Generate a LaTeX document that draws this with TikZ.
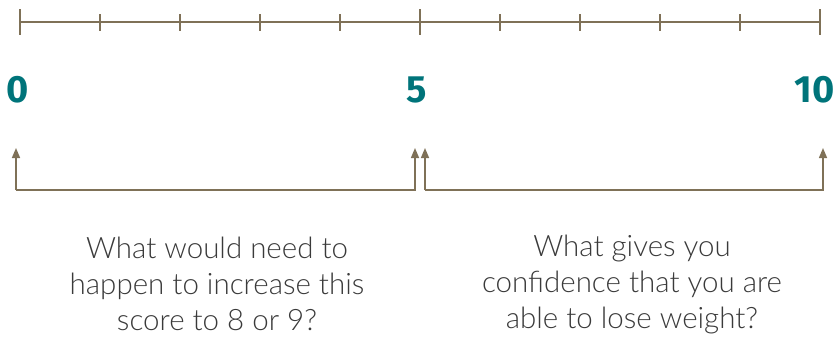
\documentclass[tikz,border=0pt]{standalone}
\usepackage{fontspec}
\setmainfont{Lato}
\newfontfamily\numfont{Fira Sans}
\newfontfamily\txtfont{Lato Light}
\usetikzlibrary{arrows.meta}
\definecolor{teal1}{HTML}{00747A}
\definecolor{axisc}{HTML}{7F7157}
\definecolor{txtc}{HTML}{3A3A3A}
\tikzset{
  axisline/.style={draw=axisc, line width=1.2pt},
  num/.style={text=teal1, font=\numfont\bfseries\fontsize{38}{40}\selectfont, inner sep=0pt},
  question/.style={text=txtc, font=\txtfont\fontsize{29.5}{36}\selectfont, align=center, inner sep=0pt},
  bracket/.style={draw=axisc, line width=1.5pt, -{Triangle[length=10pt,width=8pt]}},
}
\begin{document}
\begin{tikzpicture}[x=1pt,y=-1pt]
\useasboundingbox (0,0) rectangle (837,338);
\coordinate (aL) at (20,22);
\coordinate (aR) at (820,22);
\draw[axisline] (aL) -- (aR);
\foreach \i in {0,...,10}{
  \pgfmathsetmacro{\xx}{20+80*\i}
  \ifnum\i=0 \draw[axisline] (\xx,9) -- (\xx,35);
  \else\ifnum\i=5 \draw[axisline] (\xx,9) -- (\xx,35);
  \else\ifnum\i=10 \draw[axisline] (\xx,9) -- (\xx,35);
  \else \draw[axisline] (\xx,14) -- (\xx,31);
  \fi\fi\fi
}
\node[num, anchor=center] (n0) at (18,90) {0};
\node[num, anchor=center] (n5) at (417,90) {5};
\node[num, anchor=east] (n10) at (835,90) {10};
\coordinate (l1) at (16,190);
\coordinate (l2) at (415,190);
\coordinate (r1) at (425,190);
\coordinate (r2) at (823,190);
\coordinate (t0) at (16,148);
\coordinate (t5a) at (415,148);
\coordinate (t5b) at (425,148);
\coordinate (t10) at (823,148);
\draw[bracket] (l1) -- (t0);
\draw[bracket] (l1) -- (l2) -- (t5a);
\draw[bracket] (r1) -- (t5b);
\draw[bracket] (r1) -- (r2) -- (t10);
\node[question] (q1) at (217,284) {What would need to\\happen to increase this\\score to 8 or 9?};
\node[question] (q2) at (632,284) {What gives you\\confidence that you are\\able to lose weight?};
\end{tikzpicture}
\end{document}
